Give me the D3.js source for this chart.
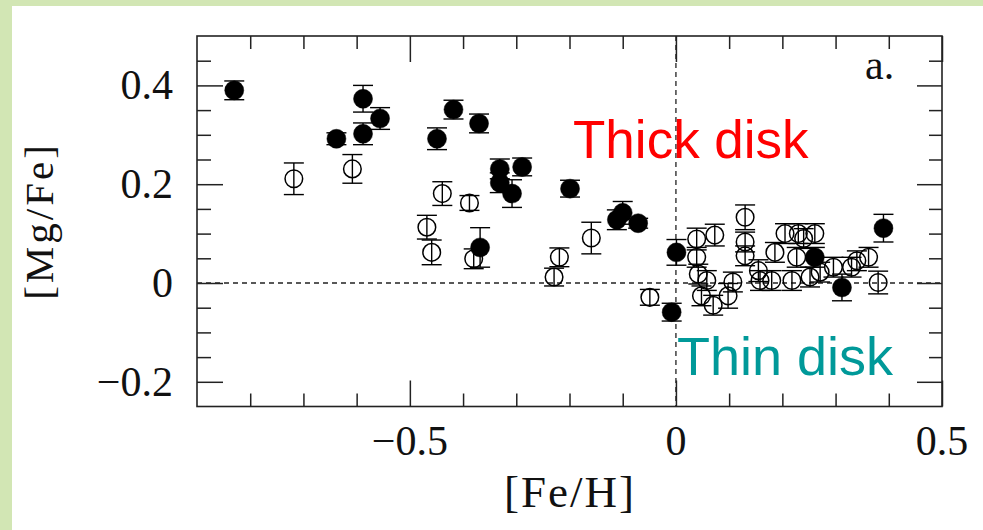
<!DOCTYPE html>
<html>
<head>
<meta charset="utf-8">
<script src="https://cdn.jsdelivr.net/npm/d3@7"></script>
<style>
  html, body { margin: 0; padding: 0; background: #d2e6b4; }
  svg { display: block; }
</style>
</head>
<body>
<svg id="chart" width="983" height="530"></svg>
<script>
// Thick-disk stars: [Fe/H], [Mg/Fe], error in [Mg/Fe]
const thickFeH = [-0.83, -0.638, -0.588, -0.588, -0.556, -0.449, -0.418, -0.370, -0.331, -0.289, -0.331, -0.308, -0.368, -0.199, -0.100, -0.111, -0.071, 0.001, -0.008, 0.261, 0.312, 0.390];
const thickMgFe = [0.390, 0.292, 0.373, 0.302, 0.333, 0.292, 0.351, 0.323, 0.231, 0.235, 0.203, 0.181, 0.072, 0.191, 0.142, 0.128, 0.121, 0.062, -0.059, 0.052, -0.009, 0.111];
const thickErr = [0.019, 0.012, 0.027, 0.022, 0.022, 0.022, 0.019, 0.019, 0.020, 0.018, 0.020, 0.028, 0.040, 0.017, 0.023, 0.020, 0.010, 0.026, 0.018, 0.020, 0.027, 0.028];

// Thin-disk stars: [Fe/H], [Mg/Fe], error in [Mg/Fe]
const thinFeH = [-0.718, -0.608, -0.439, -0.388, -0.468, -0.459, -0.380, -0.219, -0.229, -0.159, -0.049, 0.130, 0.039, 0.073, 0.130, 0.039, 0.130, 0.042, 0.058, 0.155, 0.158, 0.107, 0.098, 0.048, 0.070, 0.186, 0.180, 0.205, 0.230, 0.261, 0.227, 0.296, 0.340, 0.362, 0.330, 0.380, 0.218, 0.252, 0.271, 0.240];
const thinMgFe = [0.211, 0.231, 0.181, 0.162, 0.113, 0.062, 0.049, 0.052, 0.012, 0.091, -0.029, 0.133, 0.089, 0.097, 0.083, 0.052, 0.055, 0.018, 0.005, 0.025, 0.005, 0.002, -0.026, -0.026, -0.045, 0.062, 0.005, 0.100, 0.100, 0.100, 0.052, 0.032, 0.045, 0.052, 0.032, 0.001, 0.005, 0.012, 0.022, 0.090];
const thinErr = [0.032, 0.029, 0.024, 0.015, 0.024, 0.025, 0.020, 0.019, 0.018, 0.032, 0.016, 0.025, 0.022, 0.022, 0.020, 0.020, 0.020, 0.020, 0.020, 0.022, 0.020, 0.020, 0.025, 0.020, 0.020, 0.020, 0.020, 0.020, 0.020, 0.020, 0.020, 0.020, 0.020, 0.020, 0.020, 0.023, 0.020, 0.020, 0.020, 0.020];

// Axis ticks
const xMajor = [-0.5, 0, 0.5];
const xMinor = [-0.8, -0.7, -0.6, -0.4, -0.3, -0.2, -0.1, 0.1, 0.2, 0.3, 0.4];
const yMajor = [-0.2, 0, 0.2, 0.4];
const yMinor = [-0.15, -0.1, -0.05, 0.05, 0.1, 0.15, 0.25, 0.3, 0.35, 0.45];

const svg = d3.select("#chart");
const axisColor = "#222";
const serif = "'Liberation Serif', 'Times New Roman', serif";
const sans = "'Liberation Sans', Arial, sans-serif";

// white page area over the green backdrop
svg.append("rect").attr("x", 0).attr("y", 0).attr("width", 983).attr("height", 530).attr("fill", "#d2e6b4");
svg.append("rect").attr("x", 12).attr("y", 6).attr("width", 971).attr("height", 524).attr("fill", "#ffffff");

const L = 197, R = 942, T = 36, B = 406.5;
const x = d3.scaleLinear().domain([-0.9, 0.5]).range([L, R]);
const y = d3.scaleLinear().domain([-0.25, 0.5]).range([B, T]);

const fmt = v => v === 0 ? "0" : (v < 0 ? "\u2212" : "") + String(Math.abs(v));

// reference lines at [Fe/H]=0 and [Mg/Fe]=0
const ref = svg.append("g").attr("stroke", axisColor).attr("stroke-width", 1.3).attr("stroke-dasharray", "5,4");
ref.append("line").attr("x1", L).attr("x2", R).attr("y1", y(0)).attr("y2", y(0));
ref.append("line").attr("x1", x(0)).attr("x2", x(0)).attr("y1", T).attr("y2", B);

// inward ticks on all four sides
function ticks(axisFn, scale, values, size, translate) {
  const g = svg.append("g").attr("transform", translate)
    .call(axisFn(scale).tickValues(values).tickSize(-size).tickFormat(""));
  g.select(".domain").remove();
  g.selectAll("line").attr("stroke", axisColor).attr("stroke-width", 1.5);
  return g;
}
ticks(d3.axisBottom, x, xMinor, 13, `translate(0,${B})`);
ticks(d3.axisBottom, x, xMajor, 26, `translate(0,${B})`);
ticks(d3.axisTop, x, xMinor, 13, `translate(0,${T})`);
ticks(d3.axisTop, x, xMajor, 26, `translate(0,${T})`);
ticks(d3.axisLeft, y, yMinor, 14, `translate(${L},0)`);
ticks(d3.axisLeft, y, yMajor, 26, `translate(${L},0)`);
ticks(d3.axisRight, y, yMinor, 13, `translate(${R},0)`);
ticks(d3.axisRight, y, yMajor, 25, `translate(${R},0)`);

// tick labels
svg.append("g").selectAll("text").data(xMajor).join("text")
  .attr("x", d => x(d)).attr("y", 455)
  .attr("text-anchor", "middle")
  .attr("font-family", serif).attr("font-size", 42).attr("fill", "#111")
  .text(fmt);
svg.append("g").selectAll("text").data(yMajor).join("text")
  .attr("x", 173).attr("y", d => y(d) + 14)
  .attr("text-anchor", "end")
  .attr("font-family", serif).attr("font-size", 42).attr("fill", "#111")
  .text(fmt);

// error bars with caps, then markers
function drawSeries(fe, mg, err, filled) {
  const data = fe.map((v, i) => ({ fe: v, mg: mg[i], e: err[i] }));
  const g = svg.append("g");
  const bars = g.append("g").attr("stroke", "#000").attr("stroke-width", 1.4);
  bars.selectAll("line.v").data(data).join("line").attr("class", "v")
    .attr("x1", d => x(d.fe)).attr("x2", d => x(d.fe))
    .attr("y1", d => y(d.mg + d.e)).attr("y2", d => y(d.mg - d.e));
  bars.selectAll("line.t").data(data).join("line").attr("class", "t")
    .attr("x1", d => x(d.fe) - 10).attr("x2", d => x(d.fe) + 10)
    .attr("y1", d => y(d.mg + d.e)).attr("y2", d => y(d.mg + d.e));
  bars.selectAll("line.b").data(data).join("line").attr("class", "b")
    .attr("x1", d => x(d.fe) - 10).attr("x2", d => x(d.fe) + 10)
    .attr("y1", d => y(d.mg - d.e)).attr("y2", d => y(d.mg - d.e));
  g.append("g").selectAll("circle").data(data).join("circle")
    .attr("cx", d => x(d.fe)).attr("cy", d => y(d.mg))
    .attr("r", filled ? 9.5 : 8.8)
    .attr("fill", filled ? "#000" : "none")
    .attr("stroke", "#000").attr("stroke-width", filled ? 0.5 : 1.5);
}
drawSeries(thinFeH, thinMgFe, thinErr, false);
drawSeries(thickFeH, thickMgFe, thickErr, true);

// frame
svg.append("rect").attr("x", L).attr("y", T).attr("width", R - L).attr("height", B - T)
  .attr("fill", "none").attr("stroke", axisColor).attr("stroke-width", 1.6);

// axis titles
svg.append("text").attr("x", 570).attr("y", 507).attr("text-anchor", "middle")
  .attr("font-family", serif).attr("font-size", 45).attr("letter-spacing", 2).attr("fill", "#111")
  .text("[Fe/H]");
svg.append("text").attr("transform", "translate(53,221) rotate(-90)").attr("text-anchor", "middle")
  .attr("font-family", serif).attr("font-size", 41).attr("letter-spacing", 3).attr("fill", "#111")
  .text("[Mg/Fe]");

// panel tag
svg.append("text").attr("x", 865).attr("y", 79)
  .attr("font-family", serif).attr("font-size", 42).attr("fill", "#111").text("a.");

// population labels
svg.append("text").attr("x", 573).attr("y", 158)
  .attr("font-family", sans).attr("font-size", 53).attr("fill", "#ff0000").text("Thick disk");
svg.append("text").attr("x", 677).attr("y", 375)
  .attr("font-family", sans).attr("font-size", 54).attr("fill", "#009999").text("Thin disk");
</script>
</body>
</html>
